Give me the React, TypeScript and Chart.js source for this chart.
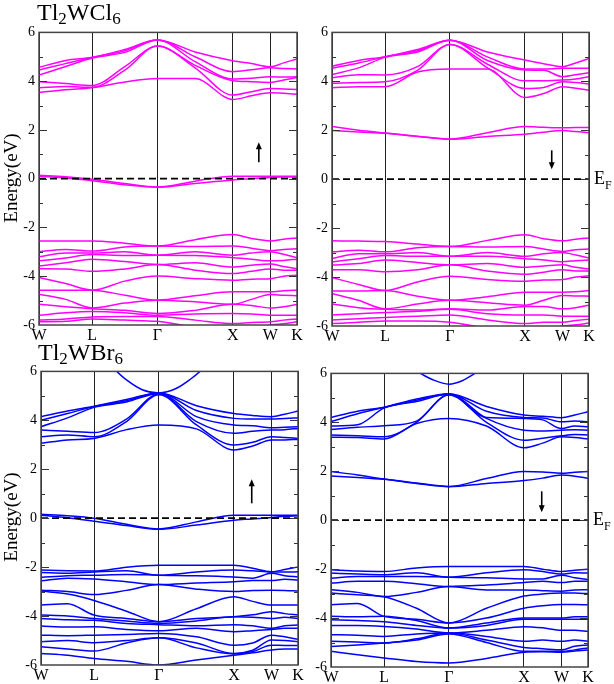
import React, { useEffect, useRef } from "react";
import { Chart, registerables } from "chart.js";
Chart.register(...registerables);

// ---------- k-path ----------
const K_PATH = [0, 0.354, 0.707, 1.14, 1.573, 2.073, 2.573, 2.823, 3.073, 3.25, 3.427];
const SYM_K = [0, 0.707, 1.573, 2.573, 3.073, 3.427];
const SYM_LABELS = ["W", "L", "Γ", "X", "W", "K"];
const E_MIN = -6;
const E_MAX = 6;
const E_STEP = 2;
const FERMI = 0;

// ---------- Tl2WCl6 spin up ----------
const CL_UP_COND = [
  [3.53, 3.65, 3.73, 3.97, 4.11, 4.11, 3.25, 3.4, 3.53, 3.5, 3.46],
  [3.73, 3.78, 3.75, 4.45, 5.44, 4.55, 3.43, 3.57, 3.7, 3.68, 3.66],
  [3.98, 3.9, 3.82, 4.6, 5.44, 4.65, 4.02, 3.98, 3.95, 4.05, 4.15],
  [4.25, 4.6, 4.95, 5.18, 5.69, 4.8, 4.09, 4.12, 4.18, 4.17, 4.18],
  [4.46, 4.72, 4.97, 5.25, 5.69, 5.0, 4.39, 4.47, 4.55, 4.52, 4.5],
  [4.57, 4.85, 4.98, 5.3, 5.69, 5.2, 4.84, 4.72, 4.59, 4.75, 4.91],
];
const CL_UP_FERMI = [
  [0.14, 0.08, -0.02, -0.2, -0.34, -0.1, 0.1, 0.1, 0.1, 0.1, 0.1],
  [0.1, 0.03, -0.08, -0.25, -0.35, -0.2, -0.05, 0.0, 0.05, 0.07, 0.07],
];
const CL_UP_VAL = [
  [-2.55, -2.55, -2.55, -2.65, -2.76, -2.5, -2.29, -2.45, -2.55, -2.48, -2.43],
  [-3.0, -2.9, -2.97, -2.8, -2.76, -2.78, -2.76, -2.85, -2.95, -2.9, -2.87],
  [-3.2, -3.05, -3.05, -3.0, -3.14, -3.0, -3.14, -3.05, -3.0, -3.1, -3.24],
  [-3.37, -3.25, -3.11, -3.15, -3.14, -3.15, -3.24, -3.3, -3.37, -3.35, -3.3],
  [-3.58, -3.45, -3.3, -3.4, -3.52, -3.45, -3.62, -3.55, -3.5, -3.6, -3.69],
  [-3.69, -3.7, -3.8, -3.7, -3.52, -3.75, -3.89, -3.8, -3.7, -3.75, -3.75],
  [-4.05, -4.3, -4.57, -4.2, -3.99, -4.1, -4.16, -4.12, -4.1, -4.0, -3.96],
  [-4.57, -4.57, -4.57, -4.78, -4.98, -4.8, -4.64, -4.64, -4.64, -4.6, -4.57],
  [-4.74, -4.95, -5.3, -5.1, -4.98, -5.05, -5.15, -4.95, -4.75, -4.78, -4.8],
  [-5.15, -5.25, -5.33, -5.4, -5.53, -5.4, -5.15, -5.2, -5.3, -5.25, -5.16],
  [-5.6, -5.5, -5.45, -5.5, -5.6, -5.55, -5.53, -5.55, -5.6, -5.6, -5.6],
  [-5.8, -5.75, -5.67, -5.65, -5.65, -5.8, -5.94, -5.9, -5.87, -5.8, -5.75],
  [-5.87, -5.85, -5.75, -5.8, -5.85, -6.1, -6.3, -6.2, -6.0, -5.95, -5.87],
];

// ---------- Tl2WCl6 spin down ----------
const CL_DN_COND = [
  [3.74, 3.78, 3.78, 4.38, 4.5, 4.5, 3.34, 3.5, 3.78, 3.72, 3.64],
  [3.92, 3.95, 3.98, 4.45, 5.51, 4.55, 3.71, 3.75, 3.98, 3.95, 3.89],
  [4.15, 4.27, 4.26, 4.6, 5.51, 4.7, 4.02, 4.02, 4.05, 4.1, 4.19],
  [4.28, 4.55, 4.98, 5.2, 5.68, 4.85, 4.46, 4.45, 4.19, 4.27, 4.35],
  [4.53, 4.75, 5.0, 5.25, 5.68, 5.0, 4.5, 4.5, 4.53, 4.53, 4.53],
  [4.62, 4.85, 5.01, 5.3, 5.68, 5.2, 4.87, 4.72, 4.6, 4.75, 4.94],
];
const CL_DN_GAP = [
  [1.99, 1.93, 1.88, 1.75, 1.63, 1.75, 1.84, 1.92, 1.99, 1.95, 1.9],
  [2.15, 2.0, 1.89, 1.76, 1.64, 1.9, 2.15, 2.12, 2.1, 2.11, 2.11],
];
const CL_DN_VAL = [
  [-2.52, -2.53, -2.55, -2.65, -2.75, -2.5, -2.27, -2.43, -2.52, -2.45, -2.4],
  [-2.97, -2.9, -2.97, -2.8, -2.75, -2.77, -2.75, -2.85, -2.95, -2.88, -2.85],
  [-3.24, -3.05, -3.05, -3.0, -3.15, -3.0, -3.15, -3.05, -3.0, -3.1, -3.22],
  [-3.38, -3.25, -3.12, -3.15, -3.15, -3.15, -3.25, -3.3, -3.37, -3.33, -3.3],
  [-3.51, -3.45, -3.3, -3.4, -3.5, -3.45, -3.6, -3.55, -3.5, -3.6, -3.67],
  [-3.7, -3.7, -3.78, -3.7, -3.5, -3.75, -3.88, -3.8, -3.7, -3.75, -3.75],
  [-4.02, -4.3, -4.55, -4.2, -3.97, -4.1, -4.17, -4.12, -4.1, -4.0, -3.95],
  [-4.57, -4.57, -4.55, -4.78, -4.95, -4.8, -4.62, -4.62, -4.62, -4.6, -4.55],
  [-4.67, -4.95, -5.3, -5.1, -4.95, -5.05, -5.15, -4.95, -4.75, -4.77, -4.78],
  [-5.1, -5.25, -5.32, -5.35, -5.3, -5.35, -5.2, -5.2, -5.3, -5.25, -5.15],
  [-5.55, -5.5, -5.45, -5.4, -5.32, -5.5, -5.55, -5.55, -5.6, -5.6, -5.6],
  [-5.75, -5.7, -5.65, -5.6, -5.55, -5.75, -5.9, -5.85, -5.85, -5.78, -5.72],
  [-5.9, -5.85, -5.8, -5.8, -5.85, -6.1, -6.3, -6.2, -6.0, -5.95, -5.88],
];

// ---------- Tl2WBr6 spin up ----------
const BR_UP_COND = [
  [3.06, 3.2, 3.26, 3.62, 3.81, 3.65, 2.79, 2.95, 3.2, 3.2, 3.22],
  [3.33, 3.4, 3.33, 3.95, 5.05, 3.81, 2.99, 3.1, 3.33, 3.3, 3.26],
  [3.6, 3.55, 3.5, 4.05, 5.08, 3.95, 3.47, 3.55, 3.6, 3.62, 3.67],
  [3.74, 4.1, 4.53, 4.75, 5.1, 4.15, 3.81, 3.78, 3.7, 3.72, 3.74],
  [4.0, 4.28, 4.56, 4.8, 5.12, 4.4, 4.08, 4.05, 4.05, 4.08, 4.1],
  [4.15, 4.38, 4.58, 4.85, 5.12, 4.6, 4.28, 4.2, 4.15, 4.25, 4.38],
];
const BR_UP_EXTRA_K = [0.9, 1.01, 1.14, 1.35, 1.573, 1.8, 2.0, 2.12, 2.25];
const BR_UP_EXTRA_E = [6.35, 6.0, 5.65, 5.25, 5.12, 5.3, 5.7, 6.0, 6.4];
const BR_UP_FERMI = [
  [0.16, 0.1, 0.0, -0.25, -0.44, -0.15, 0.12, 0.12, 0.12, 0.12, 0.12],
  [0.12, 0.02, -0.12, -0.3, -0.45, -0.28, -0.08, -0.03, 0.03, 0.08, 0.1],
];
const BR_UP_VAL = [
  [-2.12, -2.15, -2.16, -2.0, -1.92, -1.92, -1.92, -2.05, -2.19, -2.1, -1.99],
  [-2.22, -2.25, -2.2, -2.15, -2.33, -2.2, -2.12, -2.15, -2.2, -2.2, -2.19],
  [-2.42, -2.35, -2.33, -2.3, -2.33, -2.35, -2.4, -2.45, -2.25, -2.35, -2.4],
  [-2.56, -2.45, -2.49, -2.6, -2.71, -2.65, -2.6, -2.55, -2.55, -2.5, -2.53],
  [-2.94, -3.0, -3.12, -2.95, -2.71, -2.9, -3.0, -2.95, -2.94, -2.95, -2.98],
  [-2.98, -3.1, -3.36, -3.8, -4.23, -3.7, -3.21, -3.4, -3.55, -3.55, -3.55],
  [-3.55, -3.5, -3.96, -4.1, -4.23, -4.1, -4.03, -3.95, -3.82, -3.9, -3.96],
  [-3.96, -4.0, -4.1, -4.2, -4.3, -4.2, -4.03, -4.05, -4.1, -4.05, -4.1],
  [-4.1, -4.15, -4.17, -4.3, -4.35, -4.4, -4.35, -4.4, -4.5, -4.4, -4.37],
  [-4.41, -4.45, -4.44, -4.55, -4.6, -4.5, -4.64, -4.6, -4.55, -4.5, -4.5],
  [-4.78, -4.8, -4.78, -4.75, -4.71, -4.85, -5.19, -5.1, -4.78, -4.85, -4.95],
  [-5.05, -5.0, -5.09, -5.0, -4.89, -5.1, -5.53, -5.4, -4.98, -5.0, -5.05],
  [-5.25, -5.35, -5.43, -5.1, -4.89, -5.3, -5.55, -5.45, -5.19, -5.2, -5.2],
  [-5.53, -5.6, -5.73, -5.85, -6.0, -5.8, -5.6, -5.5, -5.39, -5.35, -5.35],
];

// ---------- Tl2WBr6 spin down ----------
const BR_DN_COND = [
  [3.39, 3.38, 3.32, 3.95, 4.16, 3.85, 2.96, 3.15, 3.41, 3.38, 3.32],
  [3.48, 3.45, 3.41, 4.0, 5.12, 4.0, 3.27, 3.35, 3.45, 3.5, 3.48],
  [3.71, 3.8, 3.86, 4.05, 5.14, 4.16, 3.68, 3.65, 3.68, 3.7, 3.68],
  [3.85, 3.9, 4.58, 4.85, 5.15, 4.2, 4.16, 4.1, 3.75, 3.85, 3.82],
  [4.03, 4.35, 4.61, 4.9, 5.16, 4.45, 4.2, 4.18, 4.02, 4.05, 4.02],
  [4.2, 4.45, 4.62, 4.95, 5.17, 4.65, 4.3, 4.25, 4.19, 4.3, 4.43],
];
const BR_DN_EXTRA_K = [1.0, 1.19, 1.35, 1.573, 1.75, 1.92, 2.1];
const BR_DN_EXTRA_E = [6.3, 6.0, 5.75, 5.56, 5.7, 6.0, 6.35];
const BR_DN_GAP = [
  [1.81, 1.75, 1.67, 1.5, 1.37, 1.5, 1.62, 1.72, 1.85, 1.8, 1.71],
  [1.99, 1.85, 1.68, 1.52, 1.38, 1.7, 1.99, 1.97, 1.92, 1.96, 1.99],
];
const BR_DN_VAL = [
  [-2.03, -2.08, -2.1, -1.95, -1.89, -1.89, -1.89, -2.0, -2.1, -2.05, -2.0],
  [-2.16, -2.2, -2.23, -2.15, -2.33, -2.15, -2.03, -2.1, -2.2, -2.15, -2.16],
  [-2.37, -2.3, -2.3, -2.3, -2.33, -2.35, -2.4, -2.4, -2.25, -2.35, -2.43],
  [-2.57, -2.5, -2.5, -2.6, -2.71, -2.65, -2.55, -2.5, -2.55, -2.5, -2.5],
  [-2.84, -2.95, -3.12, -2.95, -2.71, -2.85, -2.85, -2.88, -2.9, -2.85, -2.84],
  [-2.98, -3.05, -3.13, -3.6, -4.2, -3.6, -3.1, -3.02, -2.98, -2.98, -3.0],
  [-3.46, -3.4, -3.93, -4.05, -4.2, -4.0, -3.6, -3.5, -3.45, -3.45, -3.46],
  [-3.93, -3.95, -3.93, -4.1, -4.41, -4.2, -4.0, -4.0, -4.0, -3.95, -3.95],
  [-4.07, -4.1, -4.15, -4.3, -4.41, -4.3, -4.05, -4.05, -4.05, -4.05, -4.05],
  [-4.3, -4.3, -4.34, -4.45, -4.61, -4.5, -4.35, -4.4, -4.5, -4.5, -4.54],
  [-4.68, -4.7, -4.75, -4.65, -4.61, -4.75, -4.95, -4.9, -4.95, -4.9, -4.95],
  [-4.95, -4.98, -5.02, -4.85, -4.61, -4.9, -5.2, -5.25, -5.3, -5.15, -5.1],
  [-5.16, -5.1, -5.02, -4.9, -4.65, -5.0, -5.36, -5.36, -5.36, -5.3, -5.22],
  [-5.36, -5.5, -5.63, -5.78, -5.84, -5.65, -5.4, -5.38, -5.4, -5.35, -5.3],
];

// ---------- spin arrows (k, tail energy, head energy) ----------
const ARROW_CL_UP = [2.92, 0.67, 1.49];
const ARROW_CL_DN = [2.93, 1.18, 0.41];
const ARROW_BR_UP = [2.81, 0.61, 1.59];
const ARROW_BR_DN = [2.81, 1.18, 0.33];

const MAGENTA = "#ff00ff";
const BLUE = "#0000ff";
const SERIF = "'Liberation Serif', 'Times New Roman', Times, serif";

type Extra = { k: number[]; e: number[] } | null;

type PanelProps = {
  bands: number[][];
  extra: Extra;
  color: string;
  arrow: number[];
  area: { left: number; top: number; right: number; bottom: number };
};

const PAD_L = 30;
const PAD_T = 12;
const PAD_R = 8;
const PAD_B = 22;

const framePlugin = {
  id: "frame",
  afterDatasetsDraw(chart: any, _args: any, opts: any) {
    const { ctx, chartArea: a, scales } = chart;
    const ys = scales.y;
    const xs = scales.x;
    ctx.save();
    ctx.strokeStyle = "#333";
    ctx.lineWidth = 1.2;
    for (let e = E_MIN + 1; e < E_MAX; e++) {
      const y = Math.round(ys.getPixelForValue(e)) + 0.5;
      const len = e % 2 === 0 ? 8 : 4;
      ctx.beginPath();
      ctx.moveTo(a.left, y);
      ctx.lineTo(a.left + len, y);
      ctx.moveTo(a.right, y);
      ctx.lineTo(a.right - len, y);
      ctx.stroke();
    }
    ctx.lineWidth = 1.5;
    ctx.strokeStyle = "#444";
    ctx.strokeRect(a.left, a.top, a.right - a.left, a.bottom - a.top);
    const ar = opts && opts.arrow;
    if (ar) {
      const x = xs.getPixelForValue(ar[0]);
      const y0 = ys.getPixelForValue(ar[1]);
      const y1 = ys.getPixelForValue(ar[2]);
      const dir = y1 < y0 ? -1 : 1;
      ctx.strokeStyle = "#000";
      ctx.fillStyle = "#000";
      ctx.lineWidth = 1.6;
      ctx.beginPath();
      ctx.moveTo(x, y0);
      ctx.lineTo(x, y1 - dir * 5);
      ctx.stroke();
      ctx.beginPath();
      ctx.moveTo(x, y1);
      ctx.lineTo(x - 3, y1 - dir * 7);
      ctx.lineTo(x + 3, y1 - dir * 7);
      ctx.closePath();
      ctx.fill();
    }
    ctx.restore();
  },
};

function Panel({ bands, extra, color, arrow, area }: PanelProps) {
  const ref = useRef<HTMLCanvasElement>(null);
  const width = area.right - area.left + PAD_L + PAD_R;
  const height = area.bottom - area.top + PAD_T + PAD_B;
  useEffect(() => {
    if (!ref.current) return;
    const datasets: any[] = [];
    datasets.push({
      data: [
        { x: SYM_K[0], y: FERMI },
        { x: SYM_K[SYM_K.length - 1], y: FERMI },
      ],
      borderColor: "#000",
      borderWidth: 1.8,
      borderDash: [7, 4],
      pointRadius: 0,
      fill: false,
    });
    bands.forEach((b) => {
      datasets.push({
        data: K_PATH.map((k, i) => ({ x: k, y: b[i] })),
        borderColor: color,
        borderWidth: 1.5,
        pointRadius: 0,
        fill: false,
        cubicInterpolationMode: "monotone",
      });
    });
    if (extra) {
      datasets.push({
        data: extra.k.map((k, i) => ({ x: k, y: extra.e[i] })),
        borderColor: color,
        borderWidth: 1.5,
        pointRadius: 0,
        fill: false,
        cubicInterpolationMode: "monotone",
      });
    }
    const chart = new Chart(ref.current, {
      type: "line",
      data: { datasets },
      plugins: [framePlugin],
      options: {
        animation: false,
        responsive: false,
        devicePixelRatio: 1,
        layout: { padding: { top: PAD_T, right: PAD_R, left: 0, bottom: 0 } },
        plugins: {
          legend: { display: false },
          tooltip: { enabled: false },
          frame: { arrow },
        } as any,
        scales: {
          x: {
            type: "linear",
            min: SYM_K[0],
            max: SYM_K[SYM_K.length - 1],
            afterBuildTicks: (axis: any) => {
              axis.ticks = SYM_K.map((v) => ({ value: v }));
            },
            afterFit: (s: any) => {
              s.height = PAD_B;
            },
            ticks: {
              autoSkip: false,
              maxRotation: 0,
              padding: 1,
              color: "#000",
              font: { family: SERIF, size: 16 },
              callback: (_v: any, i: number) => SYM_LABELS[i],
            },
            grid: { color: "#222", lineWidth: 1, drawTicks: false },
            border: { display: false },
          },
          y: {
            type: "linear",
            min: E_MIN,
            max: E_MAX,
            afterFit: (s: any) => {
              s.width = PAD_L;
            },
            ticks: {
              stepSize: E_STEP,
              padding: 4,
              color: "#000",
              font: { family: SERIF, size: 14 },
            },
            grid: { display: false, drawTicks: false },
            border: { display: false },
          },
        },
      } as any,
    });
    return () => chart.destroy();
  }, []);
  return (
    <div
      style={{
        position: "absolute",
        left: area.left - PAD_L,
        top: area.top - PAD_T,
        width,
        height,
      }}
    >
      <canvas ref={ref} width={width} height={height} style={{ display: "block" }} />
    </div>
  );
}

function Formula({ el, left, top }: { el: string; left: number; top: number }) {
  return (
    <div
      style={{
        position: "absolute",
        left,
        top,
        fontFamily: SERIF,
        fontSize: 24,
        lineHeight: "24px",
        color: "#000",
        whiteSpace: "nowrap",
      }}
    >
      Tl<sub style={{ fontSize: 17, verticalAlign: "-4px", lineHeight: 0 }}>2</sub>W{el}
      <sub style={{ fontSize: 17, verticalAlign: "-4px", lineHeight: 0 }}>6</sub>
    </div>
  );
}

function YTitle({ cx, cy }: { cx: number; cy: number }) {
  return (
    <div
      style={{
        position: "absolute",
        left: cx,
        top: cy,
        transform: "translate(-50%, -50%) rotate(-90deg)",
        fontFamily: SERIF,
        fontSize: 19,
        lineHeight: "19px",
        whiteSpace: "nowrap",
        color: "#000",
      }}
    >
      Energy(eV)
    </div>
  );
}

function EF({ left, top }: { left: number; top: number }) {
  return (
    <div
      style={{
        position: "absolute",
        left,
        top,
        fontFamily: SERIF,
        fontSize: 18,
        lineHeight: "18px",
        color: "#000",
        whiteSpace: "nowrap",
      }}
    >
      E<sub style={{ fontSize: 12, verticalAlign: "-5px", lineHeight: 0 }}>F</sub>
    </div>
  );
}

export default function App() {
  return (
    <div
      style={{
        position: "absolute",
        left: 0,
        top: 0,
        width: 614,
        height: 684,
        background: "#fff",
        overflow: "hidden",
      }}
    >
      <Panel
        bands={[...CL_UP_COND, ...CL_UP_FERMI, ...CL_UP_VAL]}
        extra={null}
        color={MAGENTA}
        arrow={ARROW_CL_UP}
        area={{ left: 39, top: 32, right: 297, bottom: 325 }}
      />
      <Panel
        bands={[...CL_DN_COND, ...CL_DN_GAP, ...CL_DN_VAL]}
        extra={null}
        color={MAGENTA}
        arrow={ARROW_CL_DN}
        area={{ left: 332, top: 32, right: 589, bottom: 326 }}
      />
      <Panel
        bands={[...BR_UP_COND, ...BR_UP_FERMI, ...BR_UP_VAL]}
        extra={{ k: BR_UP_EXTRA_K, e: BR_UP_EXTRA_E }}
        color={BLUE}
        arrow={ARROW_BR_UP}
        area={{ left: 41, top: 371, right: 298, bottom: 665 }}
      />
      <Panel
        bands={[...BR_DN_COND, ...BR_DN_GAP, ...BR_DN_VAL]}
        extra={{ k: BR_DN_EXTRA_K, e: BR_DN_EXTRA_E }}
        color={BLUE}
        arrow={ARROW_BR_DN}
        area={{ left: 331, top: 373, right: 588, bottom: 667 }}
      />
      <Formula el="Cl" left={37} top={0} />
      <Formula el="Br" left={38} top={340} />
      <YTitle cx={10} cy={178} />
      <YTitle cx={10} cy={517} />
      <EF left={594} top={169} />
      <EF left={593} top={510} />
    </div>
  );
}
